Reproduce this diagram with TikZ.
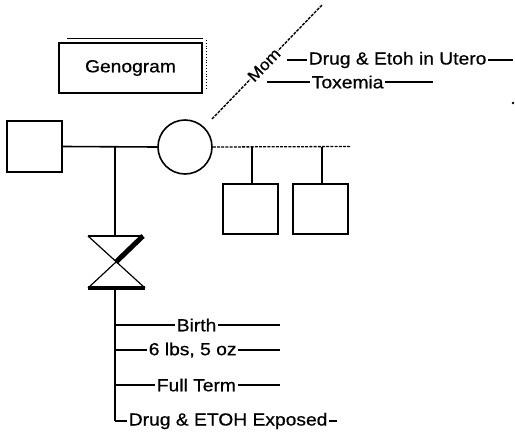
\documentclass[tikz,border=0pt]{standalone}
\usepackage{fontspec}
\setmainfont{Liberation Sans}[FakeStretch=1.1,FakeBold=0.6]
\begin{document}
\begin{tikzpicture}[x=1pt,y=-1pt,line width=1.6pt,
  lbl/.style={font=\fontsize{17.5}{18}\selectfont, inner sep=1pt, fill=white, anchor=west},
  sq/.style={draw, minimum width=55pt, minimum height=51pt, inner sep=0pt},
  dash/.style={densely dashed, dash pattern=on 3pt off 1.5pt}]
\useasboundingbox (0,0) rectangle (515,437);
% title box
\node[draw, line width=2pt, minimum width=143pt, minimum height=50pt, font=\fontsize{17.5}{18}\selectfont] (title) at (130.5,68) {Genogram};
\coordinate (tsa) at (67,38); \coordinate (tsb) at (203,38);
\coordinate (tsc) at (206,40); \coordinate (tsd) at (206,90);
\draw[line width=1pt] (tsa) -- (tsb);
\draw[line width=0.8pt, dotted] (tsc) -- (tsd);
% parents
\node[sq] (father) at (34.5,146.5) {};
\node[draw, circle, minimum size=54pt, inner sep=0pt] (mother) at (185,147) {};
\draw (father.east) -- (mother.west);
\coordinate (drop) at (115,146.5);
% mom line
\coordinate (ma) at (212,119); \coordinate (mb) at (322,5);
\draw[line width=1.4pt, dash pattern=on 3pt off 1.2pt] (ma) -- (mb);
\node[font=\fontsize{16}{16}\selectfont, fill=white, inner sep=0.3pt, rotate=46] (mom) at (264,65) {Mom};
% mom notes
\node[lbl] (utero) at (307,60) {Drug \& Etoh in Utero};
\coordinate (ua) at (287,60); \coordinate (ub) at (513,60);
\draw[line width=1.2pt] (ua) -- (utero.west);
\draw[line width=1.2pt] (utero.east) -- (ub);
\node[lbl] (tox) at (310,82) {Toxemia};
\coordinate (xa) at (267,82); \coordinate (xb) at (433,82);
\draw[line width=1.2pt] (xa) -- (tox.west);
\draw[line width=1.2pt] (tox.east) -- (xb);
\coordinate (dot) at (513,103);
\fill (dot) circle (1.3pt);
% other children
\coordinate (da) at (350,146.5);
\draw[line width=1.3pt, dash pattern=on 3pt off 1.2pt] (mother.east) -- (da);
\node[sq, minimum height=50pt] (c1) at (250.5,209) {};
\node[sq, minimum height=50pt] (c2) at (320.5,209) {};
\coordinate (c1t) at (252,146.5); \coordinate (c2t) at (322,146.5);
\draw (c1t) -- (c1t|-c1.north);
\draw (c2t) -- (c2t|-c2.north);
% hourglass
\coordinate (hTL) at (88,236); \coordinate (hTR) at (143,236);
\coordinate (hBL) at (88,288); \coordinate (hBR) at (145,288);
\coordinate (hC) at (116,262); \coordinate (hT) at (115,236); \coordinate (hB) at (115,288);
\draw (drop) -- (hT);
\draw (hTL) -- (hTR);
\draw[line width=1.2pt] (hTL) -- (hBR);
\draw[line width=1.2pt] (hBL) -- (hC);
\draw[line width=5pt] (hC) -- (hTR);
\draw[line width=4pt] (hBL) -- (hBR);
% trunk
\coordinate (corner) at (115,421);
\draw (hB) -- (corner);
\node[lbl] (birth) at (175,325) {Birth};
\node[lbl] (wt) at (147,350) {6 lbs, 5 oz};
\node[lbl] (term) at (155,385) {Full Term};
\node[lbl] (exp) at (127,421) {Drug \& ETOH Exposed};
\coordinate (b1) at (115,325); \coordinate (b2) at (280,325);
\coordinate (w1) at (115,350); \coordinate (w2) at (280,350);
\coordinate (f1) at (115,385); \coordinate (f2) at (280,385);
\coordinate (e2) at (337,421);
\draw[line width=1.2pt] (b1) -- (birth.west); \draw[line width=1.2pt] (birth.east) -- (b2);
\draw[line width=1.2pt] (w1) -- (wt.west); \draw[line width=1.2pt] (wt.east) -- (w2);
\draw[line width=1.2pt] (f1) -- (term.west); \draw[line width=1.2pt] (term.east) -- (f2);
\draw[line width=1.2pt] (corner) -- (exp.west); \draw[line width=1.2pt] (exp.east) -- (e2);
\end{tikzpicture}
\end{document}
